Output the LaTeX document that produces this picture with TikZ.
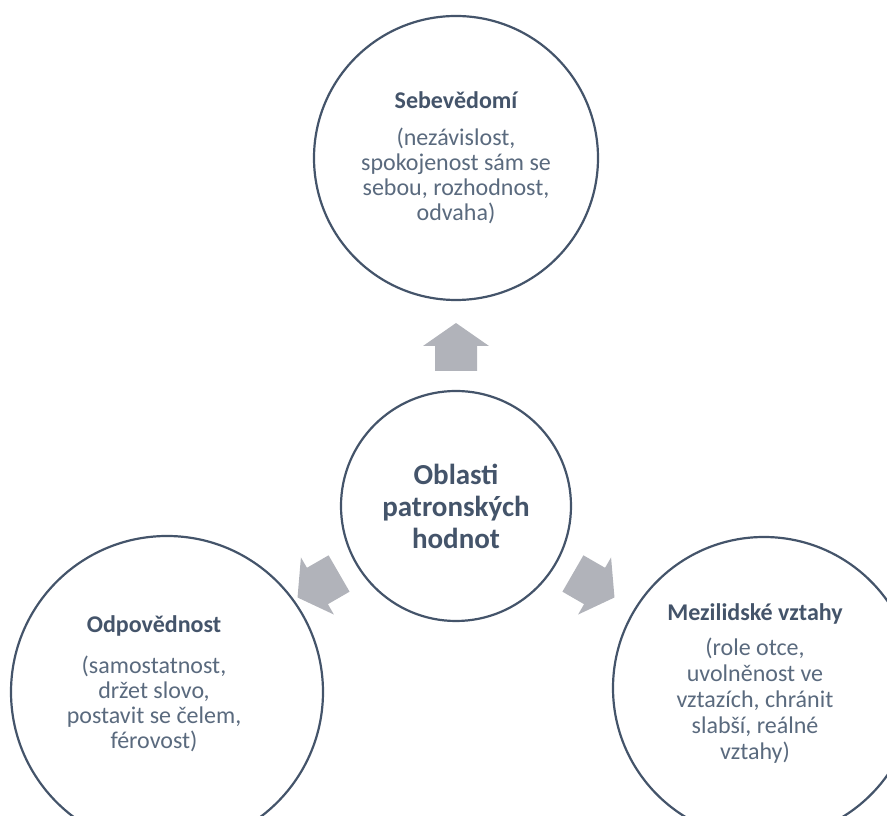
\documentclass[tikz,border=0pt]{standalone}
\usepackage{fontspec}
\setmainfont{Carlito}
\usetikzlibrary{calc}
\definecolor{slate}{HTML}{44546A}
\definecolor{slatetext}{HTML}{5A6A7E}
\definecolor{arrowgray}{HTML}{B1B3BA}
\newcommand{\areatitle}[1]{{\fontsize{24}{25}\selectfont\bfseries\color{slate}#1}}

\begin{document}
\begin{tikzpicture}[
    x=1pt, y=1pt,
    area/.style={circle, draw=slate, line width=2.2pt, fill=white, inner sep=0pt},
    areatext/.style={align=center, inner sep=0pt, text=slatetext, font=\fontsize{24}{25}\selectfont},
    hub/.style={area, align=center, text=slate, font=\fontsize{29}{32}\selectfont\bfseries},
    blockarrow/.pic={\fill[arrowgray] (-24,-21) -- (1,-21) -- (1,-33) -- (24,0)
                     -- (1,33) -- (1,21) -- (-24,21) -- cycle;}
]
\useasboundingbox (0,0) rectangle (887,816);
\clip (0,0) rectangle (887,816);

\node[hub, minimum size=230pt] (hub) at (456,310) {Oblasti\\patronských\\hodnot};

\node[area, minimum size=284pt] (self) at (456,658) {};
\node[area, minimum size=312pt] (duty) at (167,124) {};
\node[area, minimum size=302pt] (rel) at (764,128) {};

\node[areatext] (selftext) at (self.center)
    {\areatitle{Sebevědomí}\\[12pt](nezávislost,\\spokojenost sám se\\sebou, rozhodnost,\\odvaha)};
\node[areatext] (dutytext) at ([shift={(-13,8)}]duty.center)
    {\areatitle{Odpovědnost}\\[16pt](samostatnost,\\držet slovo,\\postavit se čelem,\\férovost)};
\node[areatext, font=\fontsize{24}{26}\selectfont] (reltext) at ([shift={(-9,4)}]rel.center)
    {\areatitle{Mezilidské vztahy}\\[9pt](role otce,\\uvolněnost ve\\vztazích, chránit\\slabší, reálné\\vztahy)};

% block arrows from the hub outwards
\foreach \ang in {90,210,-30}
  \pic[rotate=\ang] at ($(hub.center)+(\ang:159)$) {blockarrow};
\end{tikzpicture}
\end{document}
